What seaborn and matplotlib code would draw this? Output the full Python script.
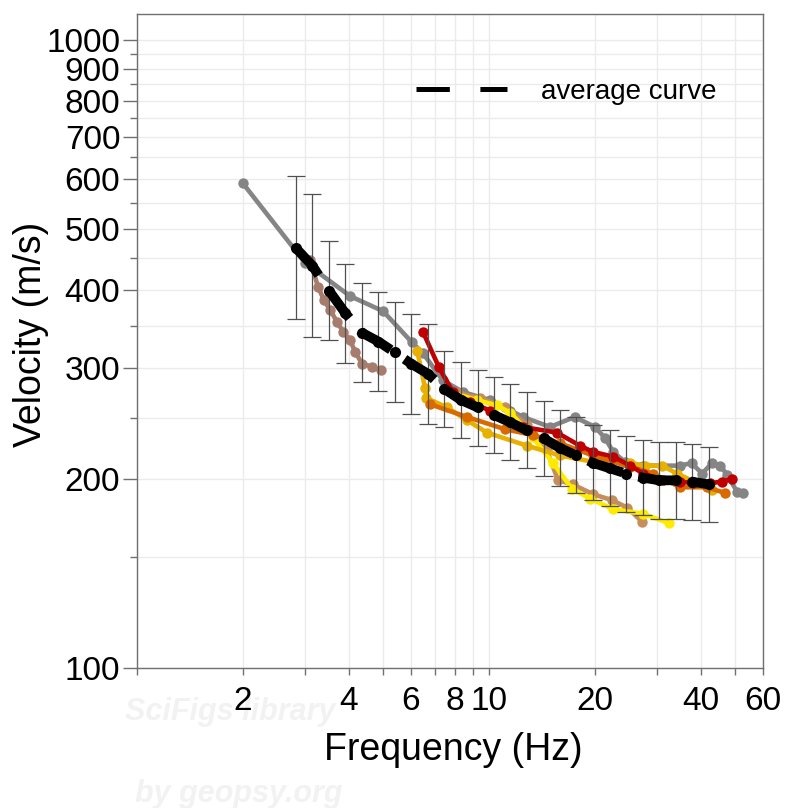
import numpy as np
import pandas as pd
import matplotlib
matplotlib.use("Agg")
import matplotlib.pyplot as plt
import seaborn as sns
from matplotlib.lines import Line2D
from matplotlib.ticker import FixedLocator, FixedFormatter, NullFormatter

# ---------------- data ----------------
gray_f = [2.0, 3.0, 4.03, 5.0, 6.04, 6.49, 7.40, 8.44, 10.07, 11.5, 12.5, 14.9, 17.5, 20.0,
          21.4, 22.5, 24.3, 27.4, 34.9, 37.6, 40.3, 43.0, 45.3, 47.5, 50.6, 52.7]
gray_v = [591, 442, 391, 370, 330, 317, 287, 275, 267, 257, 251, 242, 251, 242,
          232, 221, 213, 210, 210, 212, 204, 212, 210, 203, 191, 190]

rosy_f = [3.10, 3.27, 3.40, 3.53, 3.70, 3.85, 4.03, 4.16, 4.36, 4.65, 4.93]
rosy_v = [446, 404, 385, 372, 356, 343, 333, 319, 305, 302, 298]

tan_f = [8.17, 9.43, 11.1, 12.8, 14.6, 15.7, 17.3, 19.8, 22.4, 24.7, 27.2]
tan_v = [274, 269, 260, 244, 222, 199, 196, 189, 185, 180, 171]

yellow_f = [7.9, 9.25, 10.5, 11.5, 13.3, 15.2, 17.2, 19.4, 22.5, 27.4, 32.5]
yellow_v = [274, 267, 262, 255, 233, 212, 193, 186, 179, 176, 170]

gold_f = [6.25, 6.58, 6.64, 7.60, 8.66, 9.87, 12.8, 15.9, 19.7, 25.2, 27.7, 31.0, 34.2, 43.0]
gold_v = [320, 279, 269, 260, 248, 237, 226, 218, 213, 212, 210, 210, 204, 192]

orange_f = [6.80, 8.66, 11.1, 13.3, 15.9, 19.7, 25.2, 29.2, 34.9, 41.6, 46.8]
orange_v = [263, 251, 240, 235, 228, 218, 209, 204, 194, 194, 190]

red_f = [6.49, 7.21, 7.90, 8.83, 10.07, 12.5, 15.6, 18.1, 19.7, 22.5, 25.2, 27.4, 31.2,
         34.9, 38.0, 42.5, 45.9, 49.0]
red_v = [343, 301, 275, 265, 257, 242, 237, 226, 221, 217, 210, 204, 199,
         198, 197, 197, 198, 200]

avg_f = [2.82, 3.15, 3.51, 3.91, 4.35, 4.85, 5.40, 6.02, 6.71, 7.47, 8.33, 9.28, 10.3,
         11.5, 12.8, 14.3, 15.9, 17.7, 19.8, 22.0, 24.5, 27.3, 30.4, 33.9, 37.8, 42.1]
avg_v = [467, 437, 399, 367, 342, 331, 318, 305, 294, 278, 267, 260, 253,
         246, 239, 232, 224, 218, 212, 208, 204, 201, 199, 199, 198, 196]
avg_lo = [359, 336, 333, 306, 285, 276, 265, 254, 245, 242, 232, 226, 220,
          214, 208, 202, 195, 190, 185, 181, 177, 175, 173, 173, 172, 171]
avg_hi = [607, 568, 479, 440, 411, 397, 382, 366, 353, 320, 307, 298, 291,
          283, 275, 266, 258, 251, 244, 239, 234, 231, 229, 229, 227, 225]

x_ticks = [2, 4, 6, 8, 10, 20, 40, 60]
x_minor = [1, 3, 5, 7, 9, 30, 50]
y_ticks = [100, 200, 300, 400, 500, 600, 700, 800, 900, 1000]
y_minor = [150, 250, 350, 450, 550, 650, 750, 850, 950]

curve_names = ["gray", "rosy", "tan", "yellow", "gold", "orange", "red"]
curve_colors = ["#858585", "#a67d6d", "#c58e5c", "#ffeb00", "#e8b000", "#d96a00", "#c00000"]

# ---------------- build table ----------------
series = [(gray_f, gray_v), (rosy_f, rosy_v), (tan_f, tan_v), (yellow_f, yellow_v),
          (gold_f, gold_v), (orange_f, orange_v), (red_f, red_v)]
frames = []
for name, (f, v) in zip(curve_names, series):
    frames.append(pd.DataFrame({"f": f, "v": v, "curve": name}))
df = pd.concat(frames, ignore_index=True)

# ---------------- style ----------------
sns.set_theme(style="white")
plt.rcParams["font.family"] = ["Liberation Sans", "DejaVu Sans"]
plt.rcParams["lines.scale_dashes"] = False
plt.rcParams["text.color"] = "black"
plt.rcParams["axes.labelcolor"] = "black"

fig = plt.figure(figsize=(7.87, 8.08), dpi=100)
ax = fig.add_axes([137 / 787, 1 - 668 / 808, (763 - 137) / 787, (668 - 14) / 808])

ax.set_xscale("log")
ax.set_yscale("log")

sns.lineplot(data=df, x="f", y="v", hue="curve", hue_order=curve_names,
             palette=dict(zip(curve_names, curve_colors)), units="curve",
             estimator=None, sort=False, marker="o", markersize=7.5,
             markeredgewidth=0, linewidth=3.3, legend=False, ax=ax, zorder=2)

yerr = [np.array(avg_v) - np.array(avg_lo), np.array(avg_hi) - np.array(avg_v)]
ax.errorbar(avg_f, avg_v, yerr=yerr, fmt="none", ecolor="#505050",
            elinewidth=0.9, capsize=6.4, capthick=0.9, zorder=3)

avg_df = pd.DataFrame({"f": avg_f, "v": avg_v})
sns.lineplot(data=avg_df, x="f", y="v", color="black", linewidth=7,
             dashes=False, sort=False, ax=ax, zorder=4, marker="o",
             markersize=8, markeredgewidth=0)
avg_line = ax.get_lines()[-1]
avg_line.set_dashes((26, 12))
avg_line.set_dash_capstyle("butt")

ax.set_xlim(1, 60)
ax.set_ylim(100, 1100)

ax.xaxis.set_major_locator(FixedLocator(x_ticks))
ax.xaxis.set_major_formatter(FixedFormatter([str(t) for t in x_ticks]))
ax.xaxis.set_minor_locator(FixedLocator(x_minor))
ax.xaxis.set_minor_formatter(NullFormatter())
ax.yaxis.set_major_locator(FixedLocator(y_ticks))
ax.yaxis.set_major_formatter(FixedFormatter([str(t) for t in y_ticks]))
ax.yaxis.set_minor_locator(FixedLocator(y_minor))
ax.yaxis.set_minor_formatter(NullFormatter())

ax.grid(True, which="both", color="#ebebeb", linewidth=1.0, zorder=0)
ax.set_axisbelow(True)

for s in ax.spines.values():
    s.set_color("#707070")
    s.set_linewidth(1.0)

ax.tick_params(axis="x", which="major", direction="out", length=5, width=1,
               color="#707070", labelsize=24, labelcolor="black", pad=8, bottom=True)
ax.tick_params(axis="x", which="minor", direction="out", length=5, width=1,
               color="#707070", bottom=True)
ax.tick_params(axis="y", which="major", direction="out", length=10, width=1,
               color="#707070", labelsize=24, labelcolor="black", pad=2, left=True)
ax.tick_params(axis="y", which="minor", direction="out", length=5, width=1,
               color="#707070", left=True)

ax.set_xlabel("Frequency (Hz)", fontsize=27, color="black")
ax.set_ylabel("Velocity (m/s)", fontsize=27, color="black")
ax.xaxis.set_label_coords(0.505, -0.098)
ax.yaxis.set_label_coords(-0.14, 0.51)

handle = Line2D([], [], color="black", linewidth=3.6, dashes=(24, 22))
leg = ax.legend([handle], ["average curve"], loc="center right",
                bbox_to_anchor=(0.925, (668 - 92) / 654), frameon=False, fontsize=20,
                handlelength=3.3, handletextpad=1.2, borderpad=0, borderaxespad=0)
for t in leg.get_texts():
    t.set_color("black")

fig.text(125 / 787, 1 - 712 / 808, "SciFigs library", fontsize=22, fontstyle="italic",
         fontweight="bold", color="#f2f2f2", ha="left", va="center", zorder=-1)
fig.text(135 / 787, 1 - 794 / 808, "by geopsy.org", fontsize=22, fontstyle="italic",
         fontweight="bold", color="#f2f2f2", ha="left", va="center", zorder=-1)

fig.savefig("out.png", dpi=100, facecolor="white")
